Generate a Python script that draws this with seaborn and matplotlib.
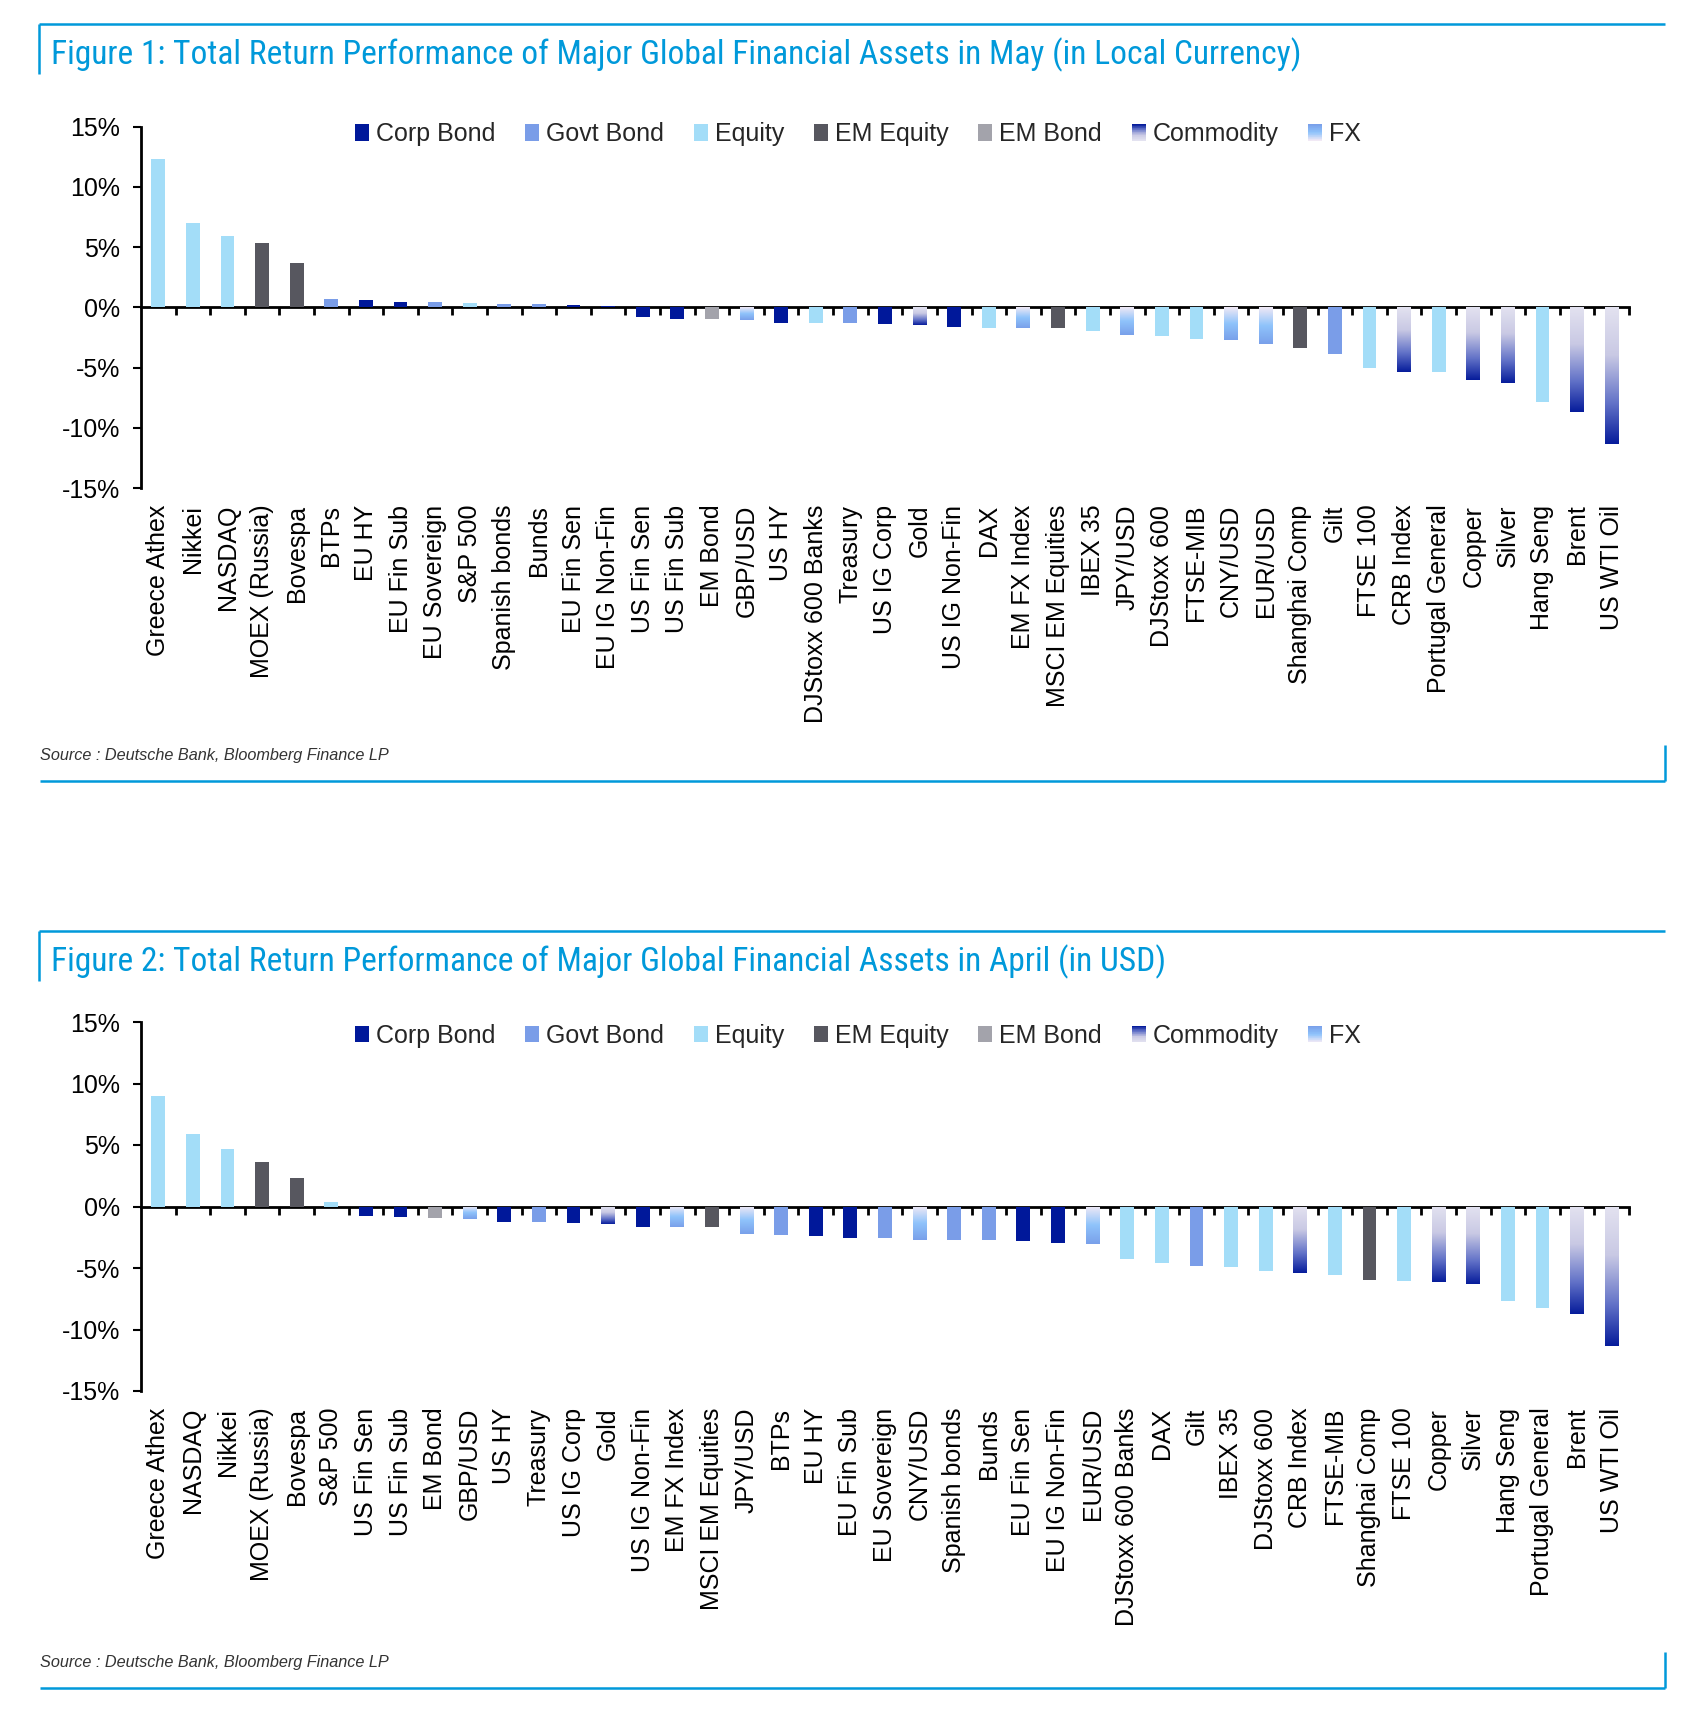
import numpy as np
import pandas as pd
import matplotlib
matplotlib.use("Agg")
import matplotlib.pyplot as plt
import seaborn as sns
from matplotlib import font_manager
from matplotlib.colors import LinearSegmentedColormap
from matplotlib.lines import Line2D
from matplotlib.patches import Patch, Rectangle
from matplotlib.legend_handler import HandlerBase
from matplotlib.ticker import FuncFormatter

# ------------------------------------------------------------------ data
may_assets = ["Greece Athex", "Nikkei", "NASDAQ", "MOEX (Russia)", "Bovespa", "BTPs",
              "EU HY", "EU Fin Sub", "EU Sovereign", "S&P 500", "Spanish bonds", "Bunds",
              "EU Fin Sen", "EU IG Non-Fin", "US Fin Sen", "US Fin Sub", "EM Bond", "GBP/USD",
              "US HY", "DJStoxx 600 Banks", "Treasury", "US IG Corp", "Gold", "US IG Non-Fin",
              "DAX", "EM FX Index", "MSCI EM Equities", "IBEX 35", "JPY/USD", "DJStoxx 600",
              "FTSE-MIB", "CNY/USD", "EUR/USD", "Shanghai Comp", "Gilt", "FTSE 100",
              "CRB Index", "Portugal General", "Copper", "Silver", "Hang Seng", "Brent",
              "US WTI Oil"]
may_returns = [12.3, 7.0, 5.9, 5.35, 3.7, 0.7,
               0.65, 0.45, 0.42, 0.37, 0.3, 0.28,
               0.2, 0.08, -0.83, -0.94, -0.97, -1.05,
               -1.27, -1.28, -1.28, -1.35, -1.44, -1.66,
               -1.68, -1.7, -1.74, -1.93, -2.27, -2.35,
               -2.6, -2.7, -3.04, -3.4, -3.87, -5.05,
               -5.36, -5.4, -6.05, -6.3, -7.85, -8.7,
               -11.35]
may_classes = ["Equity", "Equity", "Equity", "EM Equity", "EM Equity", "Govt Bond",
               "Corp Bond", "Corp Bond", "Govt Bond", "Equity", "Govt Bond", "Govt Bond",
               "Corp Bond", "Corp Bond", "Corp Bond", "Corp Bond", "EM Bond", "FX",
               "Corp Bond", "Equity", "Govt Bond", "Corp Bond", "Commodity", "Corp Bond",
               "Equity", "FX", "EM Equity", "Equity", "FX", "Equity",
               "Equity", "FX", "FX", "EM Equity", "Govt Bond", "Equity",
               "Commodity", "Equity", "Commodity", "Commodity", "Equity", "Commodity",
               "Commodity"]

apr_assets = ["Greece Athex", "NASDAQ", "Nikkei", "MOEX (Russia)", "Bovespa", "S&P 500",
              "US Fin Sen", "US Fin Sub", "EM Bond", "GBP/USD", "US HY", "Treasury",
              "US IG Corp", "Gold", "US IG Non-Fin", "EM FX Index", "MSCI EM Equities",
              "JPY/USD", "BTPs", "EU HY", "EU Fin Sub", "EU Sovereign", "CNY/USD",
              "Spanish bonds", "Bunds", "EU Fin Sen", "EU IG Non-Fin", "EUR/USD",
              "DJStoxx 600 Banks", "DAX", "Gilt", "IBEX 35", "DJStoxx 600", "CRB Index",
              "FTSE-MIB", "Shanghai Comp", "FTSE 100", "Copper", "Silver", "Hang Seng",
              "Portugal General", "Brent", "US WTI Oil"]
apr_returns = [9.0, 5.9, 4.7, 3.6, 2.3, 0.4,
               -0.76, -0.87, -0.92, -1.03, -1.25, -1.25,
               -1.33, -1.41, -1.63, -1.7, -1.7,
               -2.22, -2.3, -2.36, -2.57, -2.6, -2.71,
               -2.74, -2.74, -2.79, -2.93, -3.06,
               -4.23, -4.63, -4.85, -4.88, -5.28, -5.37,
               -5.53, -6.0, -6.04, -6.1, -6.31, -7.67,
               -8.27, -8.7, -11.38]
apr_classes = ["Equity", "Equity", "Equity", "EM Equity", "EM Equity", "Equity",
               "Corp Bond", "Corp Bond", "EM Bond", "FX", "Corp Bond", "Govt Bond",
               "Corp Bond", "Commodity", "Corp Bond", "FX", "EM Equity",
               "FX", "Govt Bond", "Corp Bond", "Corp Bond", "Govt Bond", "FX",
               "Govt Bond", "Govt Bond", "Corp Bond", "Corp Bond", "FX",
               "Equity", "Equity", "Govt Bond", "Equity", "Equity", "Commodity",
               "Equity", "EM Equity", "Equity", "Commodity", "Commodity", "Equity",
               "Equity", "Commodity", "Commodity"]

class_order = ["Corp Bond", "Govt Bond", "Equity", "EM Equity", "EM Bond", "Commodity", "FX"]
y_ticks = [-15, -10, -5, 0, 5, 10, 15]
title_1 = "Figure 1: Total Return Performance of Major Global Financial Assets in May (in Local Currency)"
title_2 = "Figure 2: Total Return Performance of Major Global Financial Assets in April (in USD)"
source_text = "Source : Deutsche Bank, Bloomberg Finance LP"

# ------------------------------------------------------------------ style
sns.set_theme(style="white")
plt.rcParams["font.family"] = ["Liberation Sans", "DejaVu Sans"]

ttf = font_manager.fontManager.ttflist
installed = {f.name for f in ttf}
title_kw = {"family": ["Liberation Sans", "DejaVu Sans"]}
for cand in ["Roboto Condensed", "Liberation Sans Narrow", "Open Sans Condensed",
             "DejaVu Sans Condensed"]:
    if cand in installed:
        title_kw = {"family": [cand, "DejaVu Sans"]}
        break
else:
    if any(f.name == "DejaVu Sans" and f.stretch == "condensed" for f in ttf):
        title_kw = {"family": ["DejaVu Sans"], "fontstretch": "condensed"}
    elif any(f.name == "Roboto" and f.stretch == "condensed" for f in ttf):
        title_kw = {"family": ["Roboto"], "fontstretch": "condensed"}

DB_BLUE = "#0099DA"
solid = {"Corp Bond": "#00189A", "Govt Bond": "#7A9DE8", "Equity": "#A3DDF8",
         "EM Equity": "#57575F", "EM Bond": "#A3A3AB"}
cmaps = {
    "Commodity": LinearSegmentedColormap.from_list(
        "comm", [(0.0, "#E3E2F0"), (0.35, "#C9C9E4"), (0.7, "#6373C8"), (1.0, "#061C9B")]),
    "FX": LinearSegmentedColormap.from_list(
        "fx", [(0.0, "#F1E9F5"), (0.5, "#8FC3FB"), (1.0, "#79A0EA")]),
}

W, H = 1705, 1716
fig = plt.figure(figsize=(W / 100, H / 100), dpi=100, facecolor="white")


def fx(px):
    return px / W


def fy(px):
    return 1 - px / H


class GradientHandler(HandlerBase):
    def __init__(self, cmap, n=24):
        super().__init__()
        self.cmap = cmap
        self.n = n

    def create_artists(self, legend, orig_handle, xdescent, ydescent, width, height,
                       fontsize, trans):
        arts = []
        for i in range(self.n):
            r = Rectangle((-xdescent, -ydescent + height * i / self.n), width,
                          height / self.n * 1.05, facecolor=self.cmap(i / (self.n - 1)),
                          edgecolor="none", transform=trans)
            arts.append(r)
        return arts


def draw_panel(rect, assets, returns, classes, legend_y):
    ax = fig.add_axes(rect)
    n = len(assets)
    df = pd.DataFrame({"asset": assets, "ret": returns, "cls": classes})
    palette = {a: solid.get(c, "#FFFFFF") for a, c in zip(assets, classes)}
    sns.barplot(data=df, x="asset", y="ret", hue="asset", palette=palette,
                order=assets, hue_order=assets, dodge=False, width=0.4,
                saturation=1, legend=False, errorbar=None, linewidth=0, ax=ax)

    grad = np.linspace(0, 1, 256).reshape(-1, 1)
    for p in list(ax.patches):
        idx = int(round(p.get_x() + p.get_width() / 2))
        cls = classes[idx]
        if cls in cmaps:
            x0, w = p.get_x(), p.get_width()
            y0, h = p.get_y(), p.get_height()
            lo, hi = min(y0, y0 + h), max(y0, y0 + h)
            data = grad[::-1] if h < 0 else grad
            im = ax.imshow(data, cmap=cmaps[cls], vmin=0, vmax=1, aspect="auto",
                           origin="lower", extent=(x0, x0 + w, lo, hi),
                           interpolation="bilinear", zorder=2)
            im.set_clip_path(p)
            p.set_facecolor("none")

    ax.set_xlim(-0.5, n - 0.5)
    ax.set_ylim(-15, 15)
    ax.set_xlabel("")
    ax.set_ylabel("")
    ax.set_facecolor("white")

    for s in ["top", "right", "bottom"]:
        ax.spines[s].set_visible(False)
    ax.spines["left"].set_color("black")
    ax.spines["left"].set_linewidth(2)

    ax.set_yticks(y_ticks)
    ax.yaxis.set_major_formatter(FuncFormatter(lambda v, _: f"{v:.0f}%"))
    ax.tick_params(axis="y", left=True, direction="out", length=6, width=1.5,
                   color="black", pad=9, labelsize=18, labelcolor="black")
    ax.set_xticks(range(n))
    ax.set_xticklabels(assets)
    ax.tick_params(axis="x", bottom=True, length=0, pad=12, labelsize=18,
                   labelrotation=90, labelcolor="black")

    sec = ax.secondary_xaxis(0, transform=ax.transData)
    sec.set_xticks(np.arange(0.5, n, 1.0))
    sec.tick_params(axis="x", bottom=True, top=False, direction="out", length=5.5,
                    width=2, color="black", labelbottom=False, labeltop=False)
    sec.spines["bottom"].set_color("black")
    sec.spines["bottom"].set_linewidth(2)
    sec.spines["top"].set_visible(False)

    handles, hmap = [], {}
    for c in class_order:
        ph = Patch(facecolor=solid.get(c, "none"), edgecolor="none", label=c)
        if c in cmaps:
            hmap[ph] = GradientHandler(cmaps[c])
        handles.append(ph)
    ax.legend(handles=handles, labels=class_order, handler_map=hmap, loc="center",
              bbox_to_anchor=(0.482, legend_y), ncol=7, frameon=False, fontsize=18,
              handlelength=0.55, handleheight=0.62, handletextpad=0.28,
              columnspacing=1.2, borderaxespad=0, borderpad=0)
    return ax


ax1 = draw_panel([fx(141), fy(488), fx(1629) - fx(141), fy(126.7) - fy(488)],
                 may_assets, may_returns, may_classes, 0.979)
ax2 = draw_panel([fx(141), fy(1391), fx(1629) - fx(141), fy(1022) - fy(1391)],
                 apr_assets, apr_returns, apr_classes, 0.962)

# ------------------------------------------------------------------ frames, titles, sources
titles, sources = [], []
for off, ttl in [(0, title_1), (907, title_2)]:
    fig.add_artist(Line2D([fx(39), fx(1665)], [fy(24 + off), fy(24 + off)],
                          transform=fig.transFigure, color=DB_BLUE, lw=1.8,
                          solid_capstyle="butt"))
    fig.add_artist(Line2D([fx(39), fx(39)], [fy(24 + off), fy(74 + off)],
                          transform=fig.transFigure, color=DB_BLUE, lw=1.8,
                          solid_capstyle="butt"))
    titles.append(fig.text(fx(51), fy(64 + off), ttl, color=DB_BLUE, fontsize=20,
                           va="baseline", ha="left", **title_kw))
    sources.append(fig.text(fx(40), fy(760 + off), source_text, color="#333333",
                            fontsize=11, fontstyle="italic", va="baseline", ha="left"))
    fig.add_artist(Line2D([fx(40), fx(1665)], [fy(781 + off), fy(781 + off)],
                          transform=fig.transFigure, color=DB_BLUE, lw=1.8,
                          solid_capstyle="butt"))
    fig.add_artist(Line2D([fx(1665), fx(1665)], [fy(745 + off), fy(781 + off)],
                          transform=fig.transFigure, color=DB_BLUE, lw=1.8,
                          solid_capstyle="butt"))

fig.canvas.draw()
r = fig.canvas.get_renderer()
tw = titles[0].get_window_extent(r).width
tsize = titles[0].get_fontsize() * 1250 / tw
for t in titles:
    t.set_fontsize(tsize)
sw = sources[0].get_window_extent(r).width
ssize = 11 * 349 / sw
for s in sources:
    s.set_fontsize(ssize)

fig.savefig("out.png", dpi=100, facecolor="white")
